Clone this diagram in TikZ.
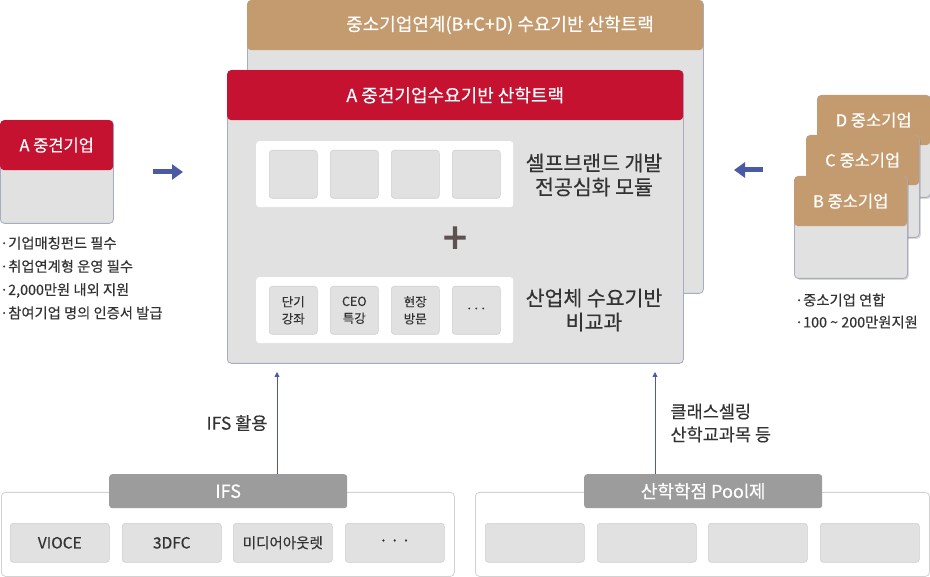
\documentclass[tikz,border=0pt]{standalone}
\usepackage{fontspec}
\setmainfont{Noto Sans CJK KR}[FakeBold=0.35]
\newfontfamily\plusfont{Noto Sans CJK KR}[FakeBold=3]
\usetikzlibrary{arrows.meta,shadows}
\definecolor{trackred}{HTML}{C41230}
\definecolor{tracktan}{HTML}{C49B6F}
\definecolor{panelgray}{HTML}{E1E1E1}
\definecolor{panelline}{HTML}{A8ACBF}
\definecolor{headgray}{HTML}{9C9C9C}
\definecolor{arrowblue}{HTML}{4A5AA5}
\definecolor{plusbrown}{HTML}{5E5151}
\definecolor{textdark}{HTML}{333333}
\definecolor{cellline}{HTML}{CFCFCF}
\definecolor{boxline}{HTML}{D2D2D2}

\begin{document}
\begin{tikzpicture}[x=1pt,y=-1pt]

    \tikzset{
      BodyStyle/.style = { rectangle, rounded corners=4pt, draw=panelline,
			  line width=0.8pt, fill=panelgray, anchor=north west, inner sep=0pt },
      HeadStyle/.style = { rectangle, rounded corners=4pt, anchor=north west,
			  inner sep=0pt, text=white, font=\fontsize{18}{20}\selectfont },
      WhiteStyle/.style = { rectangle, rounded corners=3pt, fill=white,
			  anchor=north west, inner sep=0pt },
      CellStyle/.style = { rectangle, rounded corners=3pt, fill=panelgray,
			  draw=cellline, line width=0.6pt, anchor=north west, inner sep=0pt,
			  minimum size=48pt, align=center, text=textdark,
			  font=\fontsize{12.5}{17}\selectfont },
      SideStyle/.style = { align=center, text=textdark,
			  font=\fontsize{20.5}{24}\selectfont },
      NoteStyle/.style = { align=left, anchor=west, inner sep=0pt, text=textdark,
			  font=\fontsize{14.3}{23.3}\selectfont },
      FatArrow/.style = { arrowblue, line width=5pt,
			  -{Triangle[length=11pt,width=15pt]} },
      EdgeStyle/.style = { arrowblue, line width=0.9pt,
			  -{Triangle[length=5pt,width=5pt]} },
      OuterStyle/.style = { rectangle, rounded corners=4pt, fill=white,
			  draw=boxline, line width=0.8pt, anchor=north west, inner sep=0pt },
      GrayHead/.style = { rectangle, rounded corners=3pt, fill=headgray,
			  anchor=north west, inner sep=0pt, minimum width=238pt,
			  minimum height=34pt, text=white, font=\fontsize{18}{20}\selectfont },
      SlotStyle/.style = { rectangle, rounded corners=3pt, fill=panelgray,
			  draw=cellline, line width=0.6pt, anchor=north west, inner sep=0pt,
			  minimum width=99pt, minimum height=39pt, text=textdark,
			  font=\fontsize{15.5}{17}\selectfont },
      LabelStyle/.style = { text=textdark, font=\fontsize{17.5}{23}\selectfont } }

      \useasboundingbox (0,0) rectangle (930,577);

      % back track B+C+D
      \node[BodyStyle, minimum width=456pt, minimum height=293pt] (trackbcd) at (247,0) {};
      \node[HeadStyle, fill=tracktan, minimum width=456pt, minimum height=50pt] (trackbcdhead) at (247,0) {};
      \node[text=white, font=\fontsize{18}{20}\selectfont] (trackbcdtitle) at (500,25)
	  {중소기업연계(B+C+D) 수요기반 산학트랙};

      % front track A
      \node[BodyStyle, minimum width=456pt, minimum height=293pt] (tracka) at (227,70) {};
      \node[HeadStyle, fill=trackred, minimum width=456pt, minimum height=50pt] (trackahead) at (227,70)
	  {A 중견기업수요기반 산학트랙};

      \node[WhiteStyle, minimum width=257pt, minimum height=66pt] (modrow) at (256,141) {};
      \node[WhiteStyle, minimum width=257pt, minimum height=66pt] (extrarow) at (256,277) {};
      \foreach \i/\x in {1/269,2/330,3/391,4/452}
	  \node[CellStyle] (mod\i) at (\x,150) {};
      \foreach \i/\x/\txt in {1/269/{단기\\강좌},2/330/{CEO\\특강},3/391/{현장\\방문},4/452/{···}}
	  \node[CellStyle] (extra\i) at (\x,286) {\txt};

      \node[SideStyle] (modlabel) at (594,175) {셀프브랜드 개발\\전공심화 모듈};
      \node[SideStyle] (extralabel) at (594,310) {산업체 수요기반\\비교과};
      \node[text=plusbrown, font=\plusfont\fontsize{42}{42}\selectfont] (plus) at (455,240) {+};

      % A firm
      \node[BodyStyle, minimum width=113pt, minimum height=103pt] (firma) at (0,120) {};
      \node[HeadStyle, fill=trackred, minimum width=113pt, minimum height=50pt,
	  font=\fontsize{16.5}{18}\selectfont] (firmahead) at (0,120) {A 중견기업};
      \node[NoteStyle] (firmanote) at (0,278)
	  {·기업매칭펀드 필수\\·취업연계형 운영 필수\\·2,000만원 내외 지원\\·참여기업 명의 인증서 발급};
      \coordinate (firmaout) at (153,172);
      \coordinate (firmain) at (183,172);
      \draw[FatArrow] (firmaout) -- (firmain);

      % B, C, D firms
      \foreach \n/\x/\y in {D/817/95,C/806/135,B/794/176}{
	  \node[BodyStyle, minimum width=113pt, minimum height=102pt,
	    drop shadow={shadow xshift=1.5pt, shadow yshift=-1.5pt, opacity=0.3}] (firm\n) at (\x,\y) {};
	  \node[HeadStyle, fill=tracktan, minimum width=113pt, minimum height=50pt,
	    font=\fontsize{16.5}{18}\selectfont] (firm\n head) at (\x,\y) {\n\ 중소기업};
      }
      \node[NoteStyle, font=\fontsize{14.3}{22}\selectfont] (smenote) at (795,311)
	  {·중소기업 연합\\·100 \textasciitilde\ 200만원지원};
      \coordinate (smeout) at (763,170);
      \coordinate (smein) at (734,170);
      \draw[FatArrow] (smeout) -- (smein);

      % IFS
      \node[OuterStyle, minimum width=453pt, minimum height=84pt] (ifsbox) at (1,492) {};
      \node[GrayHead] (ifshead) at (109,474) {IFS};
      \foreach \i/\x/\txt in {1/10/VIOCE,2/122/3DFC,3/233/{\fontsize{14.5}{17}\selectfont 미디어아웃렛},4/345/{·\,·\,·}}
	  \node[SlotStyle] (ifs\i) at (\x,523) {\txt};
      \coordinate (ifsin) at (277,372);
      \draw[EdgeStyle] (ifshead.north -| ifsin) -- (ifsin);
      \node[LabelStyle] (ifsuse) at (237,423) {IFS 활용};

      % Pool
      \node[OuterStyle, minimum width=454pt, minimum height=84pt] (poolbox) at (475,492) {};
      \node[GrayHead] (poolhead) at (584,474) {산학학점 Pool제};
      \foreach \i/\x in {1/485,2/597,3/708,4/820}
	  \node[SlotStyle] (pool\i) at (\x,523) {};
      \coordinate (poolin) at (655,372);
      \draw[EdgeStyle] (poolhead.north -| poolin) -- (poolin);
      \node[LabelStyle, anchor=west, align=left] (pooluse) at (667,423) {클래스셀링\\산학교과목 등};

    \end{tikzpicture}
\end{document}
